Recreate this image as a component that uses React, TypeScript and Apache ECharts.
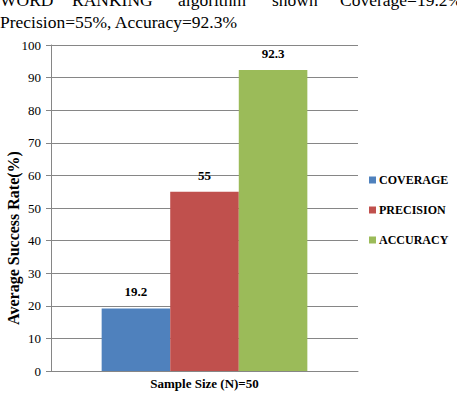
import React, { useEffect, useRef } from "react";
import * as echarts from "echarts";

const categories = ["Sample Size (N)=50"];
const seriesNames = ["COVERAGE", "PRECISION", "ACCURACY"];
const coverage = [19.2];
const precision = [55];
const accuracy = [92.3];
const colors = ["#4F81BD", "#C0504D", "#9BBB59"];
const headerLine1 = ["WORD", "RANKING", "algorithm", "shown", "Coverage=19.2%"];
const headerLine1X = [0, 72, 178, 272, 340];
const headerLine2 = "Precision=55%, Accuracy=92.3%";
const yAxisName = "Average Success Rate(%)";

export default function App() {
  const ref = useRef<HTMLDivElement>(null);
  useEffect(() => {
    if (!ref.current) return;
    const chart = echarts.init(ref.current, null, { renderer: "svg" });
    const serif = "Liberation Serif";
    const dataSets = [coverage, precision, accuracy];
    const labelStyle = {
      show: true,
      position: "top" as const,
      distance: 10,
      fontFamily: serif,
      fontWeight: "bold" as const,
      fontSize: 13,
      color: "#000",
    };
    chart.setOption({
      animation: false,
      backgroundColor: "#fff",
      grid: { left: 51, right: 99, top: 45, bottom: 29, containLabel: false },
      legend: {
        orient: "vertical",
        left: 364,
        top: 169,
        itemWidth: 7,
        itemHeight: 7,
        itemGap: 18,
        icon: "rect",
        data: seriesNames,
        textStyle: { fontFamily: serif, fontWeight: "bold", fontSize: 12, color: "#000", padding: [0, 0, 0, -2] },
      },
      xAxis: {
        type: "category",
        data: categories,
        axisLine: { show: true, lineStyle: { color: "#868686", width: 1 } },
        axisTick: { show: false },
        axisLabel: { fontFamily: serif, fontWeight: "bold", fontSize: 13, color: "#000", margin: 6 },
      },
      yAxis: {
        type: "value",
        min: 0,
        max: 100,
        interval: 10,
        axisLine: { show: true, lineStyle: { color: "#868686", width: 1 } },
        axisTick: { show: true, length: 5, lineStyle: { color: "#868686" } },
        axisLabel: { fontFamily: serif, fontSize: 13, color: "#000", margin: 10 },
        splitLine: { show: true, lineStyle: { color: "#868686", width: 1 } },
      },
      series: seriesNames.map((name, i) => ({
        name,
        type: "bar",
        data: dataSets[i],
        barGap: "0%",
        barCategoryGap: "33%",
        itemStyle: { color: colors[i] },
        label: labelStyle,
      })),
      graphic: [
        ...headerLine1.map((w, i) => ({
          type: "text",
          x: headerLine1X[i],
          y: 7,
          style: {
            text: w,
            fontFamily: serif,
            fontSize: 17.5,
            lineHeight: 14,
            fill: "#000",
            verticalAlign: "bottom",
          },
        })),
        {
          type: "text",
          x: 0,
          y: 15,
          style: {
            text: headerLine2,
            fontFamily: serif,
            fontSize: 17.5,
            lineHeight: 14,
            fill: "#000",
            verticalAlign: "top",
          },
        },
        {
          type: "text",
          x: 13,
          y: 238,
          rotation: Math.PI / 2,
          style: {
            text: yAxisName,
            fontFamily: serif,
            fontWeight: "bold",
            fontSize: 16,
            fill: "#000",
            align: "center",
            verticalAlign: "middle",
          },
        },
      ],
    });
    return () => chart.dispose();
  }, []);
  return <div ref={ref} style={{ width: 457, height: 400, position: "absolute", left: 0, top: 0 }} />;
}
